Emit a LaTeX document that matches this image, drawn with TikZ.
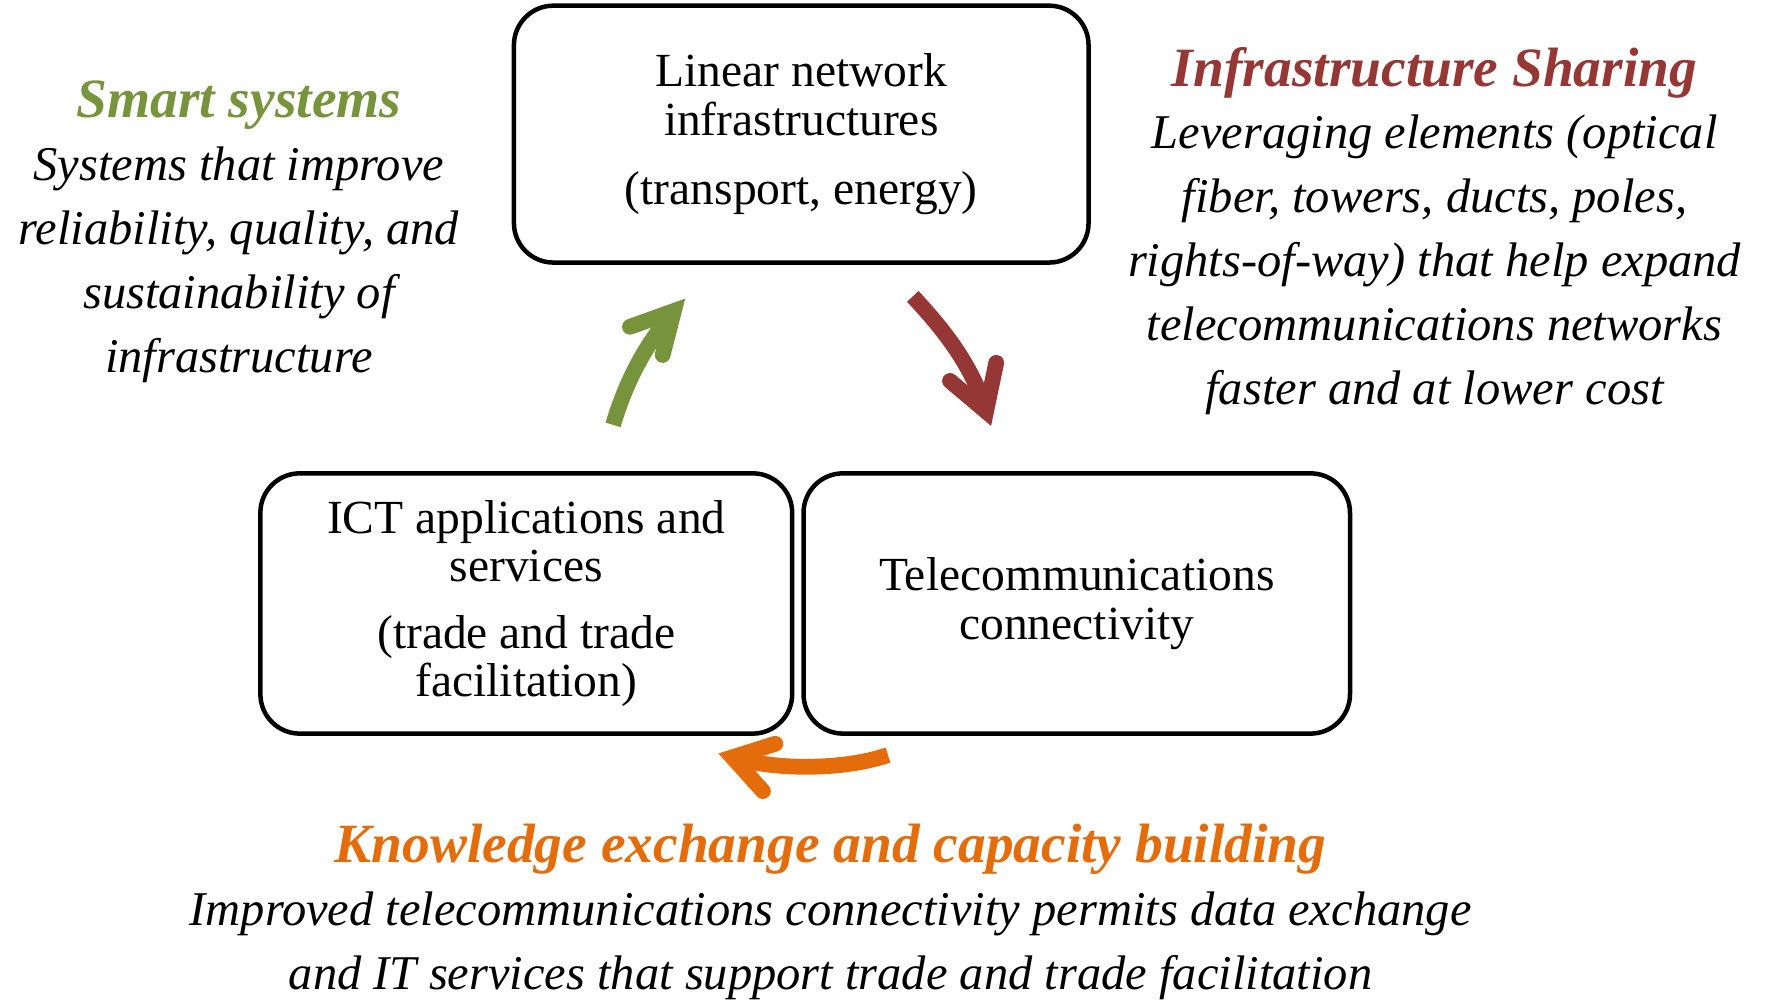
\documentclass[tikz,border=0pt]{standalone}
\usepackage{fontspec}
\setmainfont{Liberation Serif}
\definecolor{smartgreen}{RGB}{119,147,60}
\definecolor{sharered}{RGB}{149,55,53}
\definecolor{knoworange}{RGB}{228,108,10}
\begin{document}
\begin{tikzpicture}[x=0.02cm,y=-0.02cm,
	box/.style={draw,line width=0.08cm,rounded corners=0.7cm,align=center,
		font=\fontsize{24}{24.5}\selectfont,inner sep=0},
	headline/.style={font=\fontsize{28}{32}\selectfont\bfseries\itshape,inner sep=0},
	note/.style={align=center,font=\fontsize{24.5}{32.3}\selectfont\itshape,inner sep=0},
	arrowshaft/.style={line width=0.28cm,#1},
	arrowhead/.style={line width=0.28cm,line cap=round,line join=miter,#1}]
\useasboundingbox (0,0) rectangle (1568,894);
% the three boxes
\node[box,minimum width=10.2cm,minimum height=4.56cm] (linear) at (711,119)
	{Linear network\\infrastructures\\[0.36cm](transport, energy)};
\node[box,minimum width=9.44cm,minimum height=4.62cm] (ict) at (467,535.5)
	{ICT applications and\\services\\[0.32cm](trade and trade\\facilitation)};
\node[box,minimum width=9.7cm,minimum height=4.62cm] (telecom) at (955.5,535.5)
	{Telecommunications\\connectivity};
% texts
\node[headline,text=smartgreen] (smart) at (212,93) {Smart systems};
\node[note] (smarttext) at (212,235)
	{Systems that improve\\reliability, quality, and\\sustainability of\\infrastructure};
\node[headline,text=sharered] (sharing) at (1273,65) {Infrastructure Sharing};
\node[note] (sharingtext) at (1273,235)
	{Leveraging elements (optical\\fiber, towers, ducts, poles,\\rights-of-way) that help expand\\telecommunications networks\\faster and at lower cost};
\node[headline,text=knoworange] (knowledge) at (737,754) {Knowledge exchange and capacity building};
\node[note] (knowledgetext) at (737,839)
	{Improved telecommunications connectivity permits data exchange\\and IT services that support trade and trade facilitation};
% curved arrows
\coordinate (gtail) at (544,377);
\coordinate (gtip) at (598,276);
\coordinate (gleft) at (559,290);
\coordinate (gright) at (588,315);
\draw[arrowshaft=smartgreen] (gtail) .. controls (558,330) and (578,300) .. (gtip);
\draw[arrowhead=smartgreen] (gleft) -- (gtip) -- (gright);
\coordinate (rtail) at (810,263);
\coordinate (rtip) at (875,365);
\coordinate (rleft) at (843,338);
\coordinate (rright) at (884,322);
\draw[arrowshaft=sharered] (rtail) .. controls (835,290) and (862,322) .. (rtip);
\draw[arrowhead=sharered] (rleft) -- (rtip) -- (rright);
\coordinate (otail) at (788,670);
\coordinate (otip) at (650,672);
\coordinate (oup) at (688,660);
\coordinate (odown) at (677,702);
\draw[arrowshaft=knoworange] (otail) .. controls (750,683) and (690,684) .. (otip);
\draw[arrowhead=knoworange] (oup) -- (otip) -- (odown);
\end{tikzpicture}
\end{document}
